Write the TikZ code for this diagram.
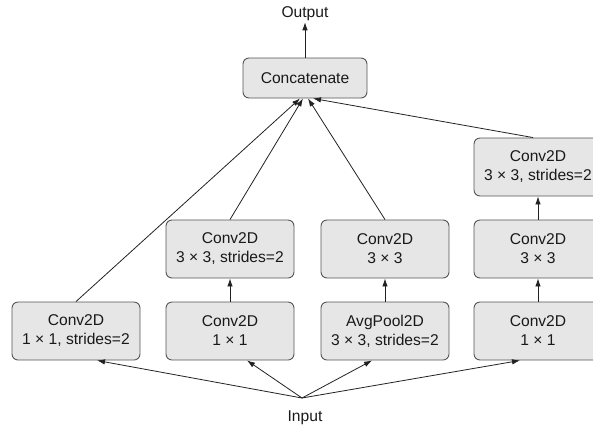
\documentclass[tikz,border=0pt]{standalone}
\usepackage{fontspec}
\setmainfont{Liberation Sans}
\usetikzlibrary{arrows.meta}
\definecolor{boxfill}{HTML}{E6E6E6}
\definecolor{boxline}{HTML}{555555}
\definecolor{lin}{HTML}{222222}
\tikzset{
  layer/.style={draw=boxline, line width=0.9pt, fill=boxfill, rounded corners=6pt,
    minimum width=128pt, minimum height=58pt, align=center, inner sep=0pt,
    font=\fontsize{15.6}{19}\selectfont, text=black!90},
  lbl/.style={font=\fontsize{15.6}{19}\selectfont, text=black!90, inner sep=1pt},
  arr/.style={draw=lin, line width=0.8pt, -{Latex[length=8pt,width=5.5pt]}}
}
\begin{document}
\begin{tikzpicture}[x=1pt,y=-1pt]
\path[use as bounding box, clip] (0,0) rectangle (593,432);
\node[layer] (b1) at (76,331) {Conv2D\\1 × 1, strides=2};
\node[layer] (b2) at (230,331) {Conv2D\\1 × 1};
\node[layer] (b3) at (385,331) {AvgPool2D\\3 × 3, strides=2};
\node[layer] (b4) at (538,331) {Conv2D\\1 × 1};
\node[layer] (m2) at (230,249) {Conv2D\\3 × 3, strides=2};
\node[layer] (m3) at (385,249) {Conv2D\\3 × 3};
\node[layer] (m4) at (538,249) {Conv2D\\3 × 3};
\node[layer] (t4) at (538,167) {Conv2D\\3 × 3, strides=2};
\node[layer, minimum width=124pt, minimum height=40pt] (cc) at (305,78) {Concatenate};
\node[lbl] (out) at (305,14) {Output};
\node[lbl] (in) at (305,418) {Input};
\coordinate (src) at (302,398);
% input arrows
\draw[arr] (src) -- ([xshift=21pt]b1.south);
\draw[arr] (src) -- ([xshift=17pt]b2.south);
\draw[arr] (src) -- ([xshift=-13pt]b3.south);
\draw[arr] (src) -- ([xshift=-18pt]b4.south);
% vertical arrows
\draw[arr] (b2) -- (m2);
\draw[arr] (b3) -- (m3);
\draw[arr] (b4) -- (m4);
\draw[arr] (m4) -- (t4);
% to concatenate
\draw[arr] (b1.north) -- ([xshift=-5pt]cc.south);
\draw[arr] (m2.north) -- ([xshift=-2pt]cc.south);
\draw[arr] (m3.north) -- ([xshift=3pt]cc.south);
\draw[arr] ([xshift=-5pt]t4.north) -- ([xshift=8pt]cc.south);
\draw[arr] (cc) -- (out);
\end{tikzpicture}
\end{document}
